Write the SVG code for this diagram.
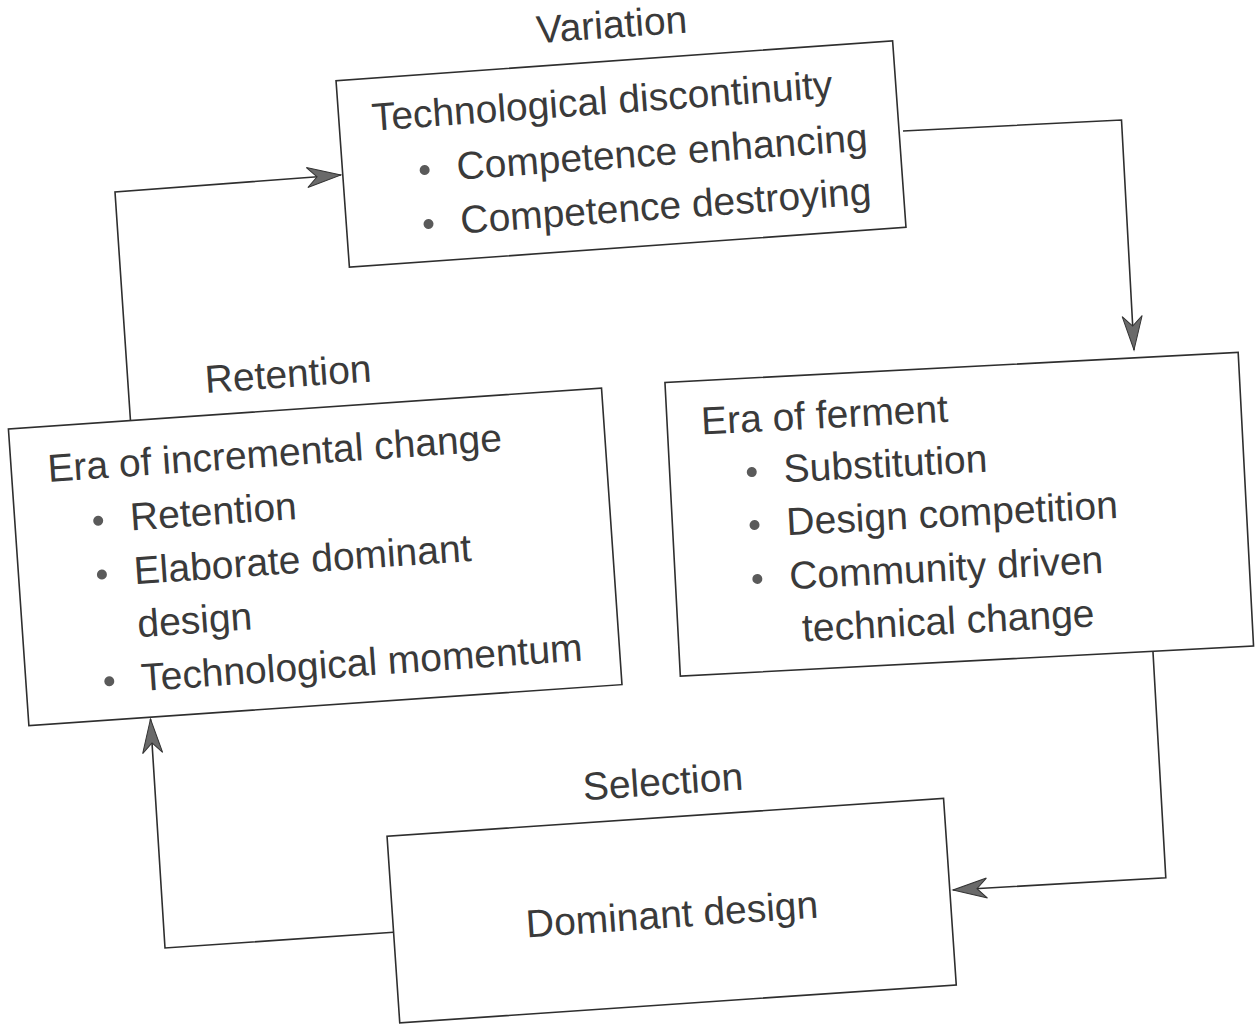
<svg xmlns="http://www.w3.org/2000/svg" width="1260" height="1025" viewBox="0 0 1260 1025">
<defs>
<style>
.box{fill:#fff;stroke:#2e2e2e;stroke-width:1.6}
.t{font-family:"Liberation Sans",Arial,Helvetica,sans-serif;font-size:39px;fill:#3a3a3a}
.c{text-anchor:middle}
.b{fill:#5a5a5a}
.conn{fill:none;stroke:#2e2e2e;stroke-width:1.6}
</style>
<marker id="arr" markerUnits="userSpaceOnUse" markerWidth="40" markerHeight="24" viewBox="-36 -12 40 24" refX="0" refY="0" orient="auto" overflow="visible">
<path d="M0,0 L-34,-10 L-24,0 L-34,10 Z" fill="#6a6a6a" stroke="#333" stroke-width="1"/>
</marker>
</defs>
<rect width="1260" height="1025" fill="#fff"/>
<g id="connectors">
<polyline class="conn" points="130.5,421 115,192 341,175" marker-end="url(#arr)"/>
<polyline class="conn" points="903,131 1121.5,120 1134,350" marker-end="url(#arr)"/>
<polyline class="conn" points="1152.7,647 1165.8,877.7 953,890" marker-end="url(#arr)"/>
<polyline class="conn" points="393.5,932.3 165,948 150.5,719" marker-end="url(#arr)"/>
</g>
<g id="variation" transform="translate(621,154) rotate(-4.1)">
<rect class="box" x="-279" y="-93.5" width="558" height="187"/>
<text class="t c" x="0" y="-116.5">Variation</text>
<text class="t" x="-246" y="-41">Technological discontinuity</text>
<circle class="b" cx="-197" cy="2" r="5"/>
<text class="t" x="-165" y="14">Competence enhancing</text>
<circle class="b" cx="-197" cy="56" r="5"/>
<text class="t" x="-165" y="68">Competence destroying</text>
</g>
<g id="ferment" transform="translate(959.25,514.25) rotate(-3.0)">
<rect class="box" x="-287" y="-147" width="574" height="294"/>
<text class="t" x="-253" y="-93">Era of ferment</text>
<circle class="b" cx="-205" cy="-53" r="5"/>
<text class="t" x="-173" y="-41">Substitution</text>
<circle class="b" cx="-205" cy="0" r="5"/>
<text class="t" x="-173" y="12">Design competition</text>
<circle class="b" cx="-205" cy="54" r="5"/>
<text class="t" x="-173" y="66">Community driven</text>
<text class="t" x="-163" y="119">technical change</text>
</g>
<g id="selection" transform="translate(671.65,910.6) rotate(-3.9)">
<rect class="box" x="-278.9" y="-93.5" width="557.8" height="187"/>
<text class="t c" x="0" y="-116">Selection</text>
<text class="t c" x="0" y="17">Dominant design</text>
</g>
<g id="retention" transform="translate(315.2,556.8) rotate(-3.95)">
<rect class="box" x="-297.25" y="-148.65" width="594.5" height="297.3"/>
<text class="t" x="-98" y="-171">Retention</text>
<text class="t" x="-261" y="-93">Era of incremental change</text>
<circle class="b" cx="-214" cy="-51" r="5"/>
<text class="t" x="-182" y="-39">Retention</text>
<circle class="b" cx="-214" cy="3" r="5"/>
<text class="t" x="-182" y="15">Elaborate dominant</text>
<text class="t" x="-182" y="68">design</text>
<circle class="b" cx="-214" cy="110" r="5"/>
<text class="t" x="-182" y="122">Technological momentum</text>
</g>
</svg>
